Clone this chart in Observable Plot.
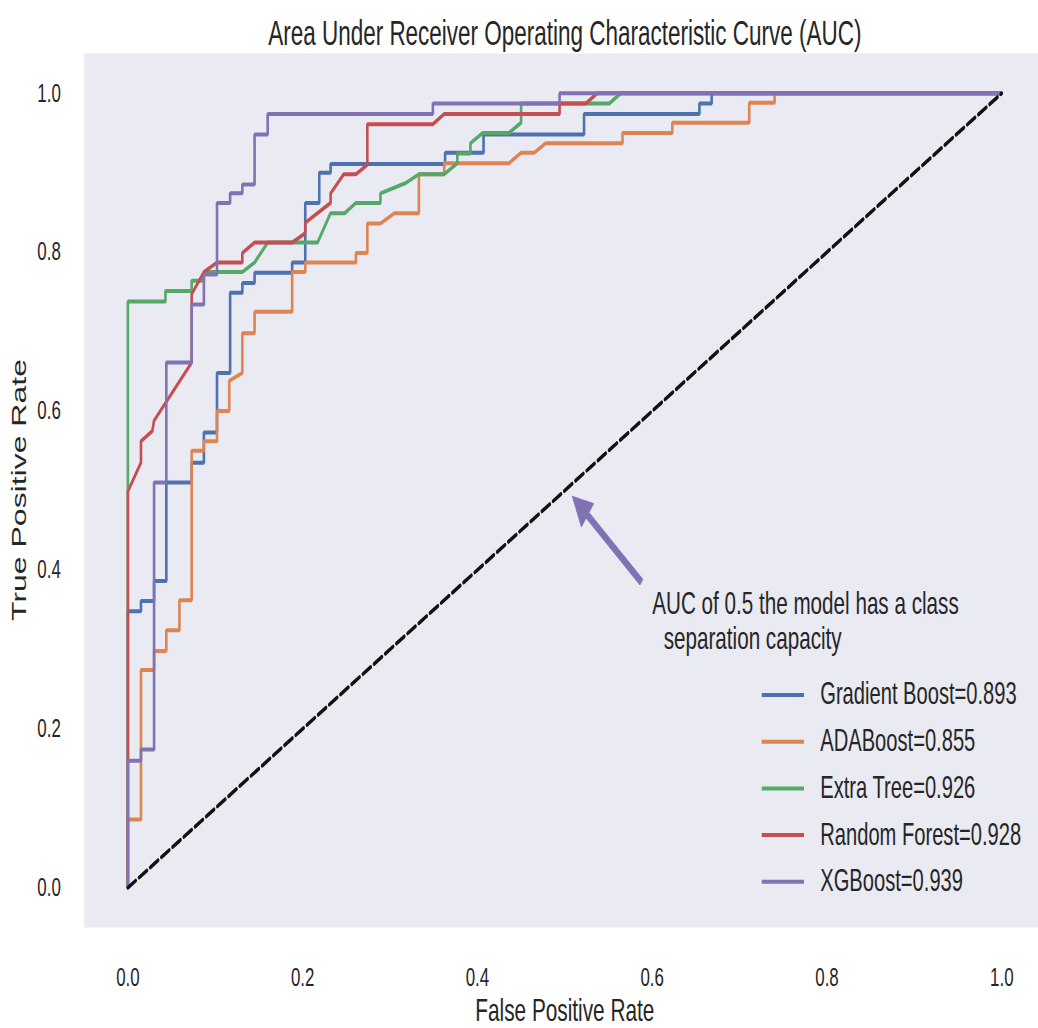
<!DOCTYPE html>
<html><head><meta charset="utf-8">
<script src="https://cdn.jsdelivr.net/npm/d3@7"></script>
<script src="https://cdn.jsdelivr.net/npm/@observablehq/plot@0.6"></script>
<style>
html,body{margin:0;padding:0;background:#fff;overflow:hidden;}
svg text{white-space:pre;}
</style></head><body>
<div id="chart"></div>
<script>
// ---- data ----
const models = ["Gradient Boost", "ADABoost", "Extra Tree", "Random Forest", "XGBoost"];
const aucs = [0.893, 0.855, 0.926, 0.928, 0.939];
const colors = ["#4C72B0", "#DD8452", "#55A868", "#C44E52", "#8172B3"];

const gbFpr = [0,0,0.015,0.015,0.030,0.030,0.044,0.044,0.073,0.073,0.087,0.087,0.102,0.102,0.117,0.117,0.131,0.131,0.145,0.145,0.188,0.188,0.203,0.203,0.219,0.219,0.232,0.232,0.363,0.363,0.407,0.407,0.522,0.522,0.654,0.654,0.668,0.668,1.0];
const gbTpr = [0,0.348,0.348,0.361,0.361,0.386,0.386,0.510,0.510,0.535,0.535,0.573,0.573,0.648,0.648,0.749,0.749,0.761,0.761,0.774,0.774,0.787,0.787,0.862,0.862,0.900,0.900,0.911,0.911,0.925,0.925,0.948,0.948,0.974,0.974,0.987,0.987,1.0,1.0];

const adaFpr = [0,0,0.015,0.015,0.030,0.030,0.044,0.044,0.059,0.059,0.073,0.073,0.087,0.087,0.102,0.102,0.116,0.116,0.131,0.131,0.145,0.145,0.188,0.188,0.203,0.203,0.261,0.261,0.274,0.274,0.289,0.305,0.333,0.333,0.362,0.362,0.436,0.450,0.465,0.478,0.566,0.566,0.623,0.623,0.711,0.711,0.740,0.740,1.0];
const adaTpr = [0,0.086,0.086,0.274,0.274,0.298,0.298,0.324,0.324,0.362,0.362,0.550,0.550,0.562,0.562,0.600,0.600,0.638,0.648,0.698,0.698,0.725,0.725,0.775,0.775,0.787,0.787,0.799,0.799,0.836,0.836,0.849,0.849,0.898,0.898,0.912,0.912,0.925,0.925,0.937,0.937,0.950,0.950,0.963,0.963,0.988,0.988,1.0,1.0];

const etFpr = [0,0,0.043,0.043,0.073,0.073,0.087,0.087,0.131,0.145,0.160,0.217,0.232,0.248,0.261,0.289,0.289,0.318,0.333,0.362,0.377,0.377,0.392,0.392,0.406,0.436,0.450,0.450,0.551,0.564,1.0];
const etTpr = [0,0.738,0.738,0.751,0.751,0.764,0.764,0.775,0.775,0.787,0.812,0.812,0.849,0.849,0.862,0.862,0.874,0.887,0.898,0.898,0.912,0.924,0.924,0.937,0.950,0.950,0.963,0.987,0.987,1.0,1.0];

const rfFpr = [0,0,0.015,0.015,0.028,0.030,0.073,0.073,0.087,0.102,0.131,0.131,0.145,0.188,0.203,0.203,0.232,0.232,0.247,0.261,0.274,0.274,0.349,0.362,0.494,0.494,0.524,0.537,1.0];
const rfTpr = [0,0.499,0.535,0.562,0.575,0.588,0.661,0.747,0.775,0.787,0.787,0.799,0.812,0.812,0.824,0.837,0.862,0.874,0.898,0.898,0.910,0.961,0.961,0.974,0.974,0.987,0.987,1.0,1.0];

const xgbFpr = [0,0,0.015,0.015,0.030,0.030,0.044,0.044,0.073,0.073,0.087,0.087,0.102,0.102,0.117,0.117,0.131,0.131,0.145,0.145,0.160,0.160,0.349,0.349,0.494,0.494,1.0];
const xgbTpr = [0,0.160,0.160,0.174,0.174,0.510,0.510,0.661,0.661,0.734,0.734,0.772,0.772,0.862,0.862,0.874,0.874,0.885,0.885,0.948,0.948,0.974,0.974,0.987,0.987,1.0,1.0];

const diagX = [0, 1];
const diagY = [0, 1];

const xTicks = [0, 0.2, 0.4, 0.6, 0.8, 1.0];
const yTicks = [0, 0.2, 0.4, 0.6, 0.8, 1.0];

const titleText = "Area Under Receiver Operating Characteristic Curve (AUC)";
const xLabel = "False Positive Rate";
const yLabel = "True Positive Rate";
const noteText = "AUC of 0.5 the model has a class\n  separation capacity";
const notePos = [{x: 0.600, y: 0.300}];
const arrowFrom = {x: 0.588, y: 0.384};
const arrowTo = {x: 0.509, y: 0.492};

// ---- build tables ----
const fprs = [gbFpr, adaFpr, etFpr, rfFpr, xgbFpr];
const tprs = [gbTpr, adaTpr, etTpr, rfTpr, xgbTpr];
const rows = models.flatMap((m, i) => fprs[i].map((f, j) => ({model: m, fpr: f, tpr: tprs[i][j]})));
const diag = diagX.map((x, i) => ({x, y: diagY[i]}));
const labels = models.map((m, i) => `${m}=${aucs[i].toFixed(3)}`);

// the reference is horizontally compressed; draw wide, then squeeze
const SQ = 0.65;
const VIEW_W = 1597, PLOT_W = 1608, H = 1028;
const ink = "#262626";
const FONT = "'Liberation Sans', Arial, sans-serif";

const chart = Plot.plot({
  width: PLOT_W, height: H,
  marginLeft: 129, marginRight: 0, marginTop: 53, marginBottom: 101,
  style: {fontFamily: FONT, fontSize: "26px", color: ink, background: "#ffffff"},
  x: {domain: [-0.05, 1.05], ticks: xTicks, tickFormat: d => d.toFixed(1), tickSize: 0, tickPadding: 40, label: null},
  y: {domain: [-0.05, 1.05], ticks: yTicks, tickFormat: d => d.toFixed(1), tickSize: 0, tickPadding: 36, label: null},
  color: {domain: models, range: colors},
  marks: [
    Plot.frame({fill: "#EAEAF2", stroke: "none"}),
    Plot.line(rows, {x: "fpr", y: "tpr", z: "model", stroke: "model", strokeWidth: 4, strokeLinejoin: "miter", strokeLinecap: "butt"}),
    Plot.line(diag, {x: "x", y: "y", stroke: "#111111", strokeWidth: 4, strokeDasharray: "14,6"}),
    Plot.text([titleText], {frameAnchor: "top", dy: -9, lineAnchor: "bottom", fontSize: 34.6, fill: ink}),
    Plot.text([xLabel], {frameAnchor: "bottom", dy: 93, lineAnchor: "bottom", fontSize: 32, fill: ink}),
    Plot.text(notePos, {x: "x", y: "y", text: () => noteText, textAnchor: "start", lineAnchor: "bottom", lineHeight: 1.1, fontSize: 31.8, fill: ink})
  ]
});

// squeeze horizontally
chart.setAttribute("viewBox", `0 0 ${VIEW_W} ${H}`);
chart.setAttribute("width", Math.round(VIEW_W * SQ));
chart.setAttribute("height", H);
chart.setAttribute("preserveAspectRatio", "none");
chart.style.maxWidth = "none";
chart.style.width = Math.round(VIEW_W * SQ) + "px";
chart.style.height = H + "px";
document.getElementById("chart").appendChild(chart);

// scales
function sc(name) {
  const s = chart.scale(name);
  if (s && typeof s.apply === "function") return v => s.apply(v);
  const l = d3.scaleLinear(s.domain, s.range);
  return v => l(v);
}
const sx = sc("x"), sy = sc("y");
const svg = d3.select(chart);

// y axis title (rotated)
svg.append("text")
  .attr("transform", `translate(28,${(53 + (H - 101)) / 2}) rotate(-90)`)
  .attr("text-anchor", "middle").attr("dy", "0.36em")
  .attr("font-family", FONT).attr("font-size", 32).attr("fill", ink)
  .text(yLabel);

// annotation arrow (filled head)
{
  const x0 = sx(arrowFrom.x), y0 = sy(arrowFrom.y), x1 = sx(arrowTo.x), y1 = sy(arrowTo.y);
  const dx = x1 - x0, dy = y1 - y0, len = Math.hypot(dx, dy);
  const ux = dx / len, uy = dy / len, px = -uy, py = ux;
  const headL = 30, headW = 15, shaftW = 3.6;
  const bx = x1 - ux * headL, by = y1 - uy * headL;
  const pts = [
    [x0 + px * shaftW, y0 + py * shaftW],
    [bx + px * shaftW, by + py * shaftW],
    [bx + px * headW, by + py * headW],
    [x1, y1],
    [bx - px * headW, by - py * headW],
    [bx - px * shaftW, by - py * shaftW],
    [x0 - px * shaftW, y0 - py * shaftW]
  ];
  svg.append("polygon").attr("points", pts.map(p => p.join(",")).join(" "))
    .attr("fill", "#8172B3").attr("stroke", "#8172B3").attr("stroke-width", 1);
}

// legend
{
  const g = svg.append("g").attr("font-family", FONT).attr("font-size", 31).attr("text-anchor", "start");
  const y0 = 695, step = 46.7;
  labels.forEach((lab, i) => {
    const y = y0 + i * step;
    g.append("line").attr("x1", 1172).attr("x2", 1237).attr("y1", y).attr("y2", y)
      .attr("stroke", colors[i]).attr("stroke-width", 4);
    g.append("text").attr("x", 1262).attr("y", y + 9.5).attr("text-anchor", "start").attr("fill", ink).text(lab);
  });
}
</script></body></html>
